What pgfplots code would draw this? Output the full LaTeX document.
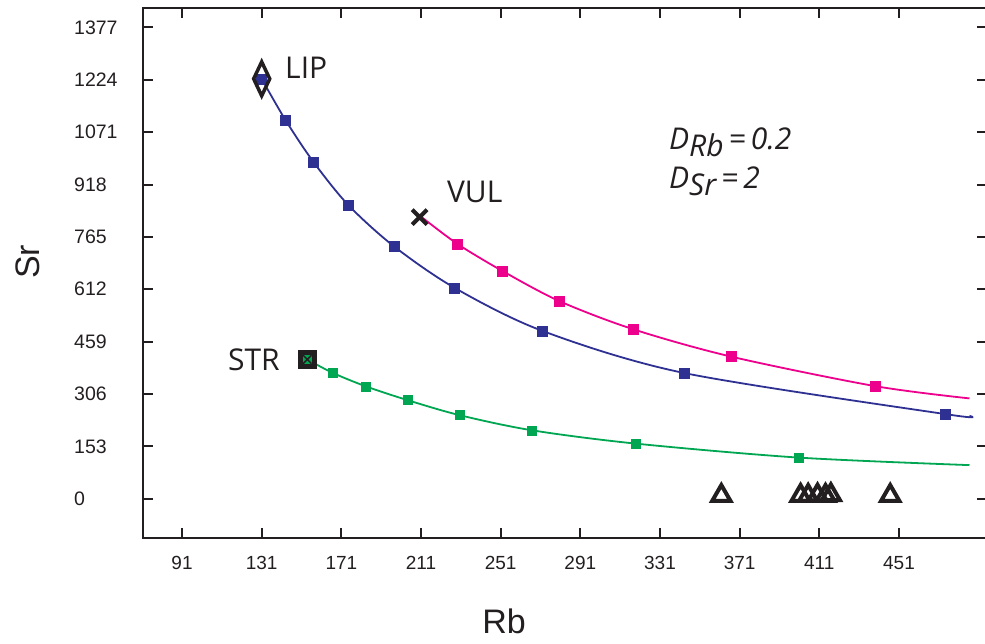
\documentclass[border=0pt]{standalone}
\usepackage{pgfplots}
\pgfplotsset{compat=1.18}
\usepackage{fontspec}
\setmainfont{Liberation Sans}
\newfontfamily\annot{Open Sans}
\definecolor{cblue}{RGB}{46,49,146}
\definecolor{cpink}{RGB}{236,0,140}
\definecolor{cgreen}{RGB}{0,166,81}
\definecolor{axblack}{RGB}{35,31,32}
\newcommand{\af}{\annot\fontsize{30}{30}\selectfont}
\begin{document}
\begin{tikzpicture}[x=1pt,y=1pt]
\useasboundingbox (0,0) rectangle (985,643);
\begin{axis}[
  at={(143pt,105pt)}, anchor=south west,
  scale only axis, width=844pt, height=530pt,
  xmin=71.4, xmax=495.2, ymin=-115, ymax=1434,
  axis line style={line width=2.5pt, color=axblack},
  xtick={91,131,171,211,251,291,331,371,411,451},
  xticklabels={91,131,171,211,251,291,331,371,411,451},
  ytick={0,153,306,459,612,765,918,1071,1224,1377},
  yticklabels={0,153,306,459,612,765,918,1071,1224,1377},
  tick align=inside, major tick length=10pt,
  tick style={line width=2pt, color=axblack},
  xticklabel style={font=\fontsize{19}{19}\selectfont, inner sep=0pt, anchor=north, yshift=-18pt, text=axblack},
  yticklabel style={font=\fontsize{19.5}{19.5}\selectfont, inner sep=0pt, anchor=west, xshift=-69pt, text=axblack},
  xlabel={Rb}, ylabel={Sr},
  xlabel style={font=\fontsize{34}{34}\selectfont, at={(axis description cs:0.4277,-0.1566)}, anchor=center, inner sep=0pt, text=axblack},
  ylabel style={font=\fontsize{34}{34}\selectfont, at={(axis description cs:-0.1368,0.5208)}, anchor=center, inner sep=0pt, text=axblack},
  clip=false,
]
% blue (LIP) curve
\addplot[cblue, line width=1.8pt, smooth, no markers] coordinates {
 (131,1227) (143.0,1106) (157,984) (174.5,858) (197.3,738) (227.9,616) (272.1,490) (343.3,367) (474.4,247) (486.4,242)};
\addplot[cblue, only marks, mark=square*, mark size=5pt] coordinates {
 (131,1227) (143.0,1106) (157,984) (174.5,858) (197.3,738) (227.9,616) (272.1,490) (343.3,367) (474.4,247)};
% pink (VUL) curve
\addplot[cpink, line width=1.8pt, smooth, no markers] coordinates {
 (211.3,823) (229.4,744) (252,665) (280.6,577) (317.6,495) (366.8,415) (438.9,329) (486.4,293)};
\addplot[cpink, only marks, mark=square*, mark size=5pt] coordinates {
 (229.4,744) (252,665) (280.6,577) (317.6,495) (366.8,415) (438.9,329)};
% green (STR) curve
\addplot[cgreen, line width=1.8pt, smooth, no markers] coordinates {
 (153.9,407) (166.5,368) (183.4,328) (204.2,288) (230.4,244) (266.5,200) (318.6,161) (400.6,120) (486.4,98)};
\addplot[cgreen, only marks, mark=square*, mark size=4.5pt] coordinates {
 (153.9,407) (166.5,368) (183.4,328) (204.2,288) (230.4,244) (266.5,200) (318.6,161) (400.6,120)};
% end members
\addplot[axblack, only marks, mark=diamond, mark size=17pt, mark options={xscale=0.63, line width=3.5pt}] coordinates {(131,1227)};
\addplot[axblack, only marks, mark=x, mark size=10.5pt, mark options={line width=4pt}] coordinates {(210.3,823)};
\addplot[axblack, only marks, mark=square, mark size=7pt, mark options={line width=5pt}] coordinates {(153.9,407)};
\addplot[axblack, only marks, mark=x, mark size=6pt, mark options={line width=1.5pt}] coordinates {(153.9,407)};
% samples
\addplot[axblack, only marks, mark=triangle, mark size=10.5pt, mark options={line width=4pt}] coordinates {
 (361.8,9) (401.6,9) (405.4,9) (410.1,10) (414.1,9) (416.8,11) (446.6,9)};
% annotations
\node[anchor=base west, inner sep=0pt, text=axblack] at (axis cs:142.7,1229) {\af LIP};
\node[anchor=base west, inner sep=0pt, text=axblack] at (axis cs:224.0,866.7) {\af VUL};
\node[anchor=base west, inner sep=0pt, text=axblack] at (axis cs:114.0,375.5) {\af STR};
\node[anchor=base west, inner sep=0pt, text=axblack] at (axis cs:335.5,1021) {\af\itshape D\raisebox{-7pt}{Rb}\hspace{5pt}=\hspace{5pt}0.2};
\node[anchor=base west, inner sep=0pt, text=axblack] at (axis cs:335.5,907) {\af\itshape D\raisebox{-7pt}{Sr}\hspace{5pt}=\hspace{5pt}2};
\end{axis}
\end{tikzpicture}
\end{document}
